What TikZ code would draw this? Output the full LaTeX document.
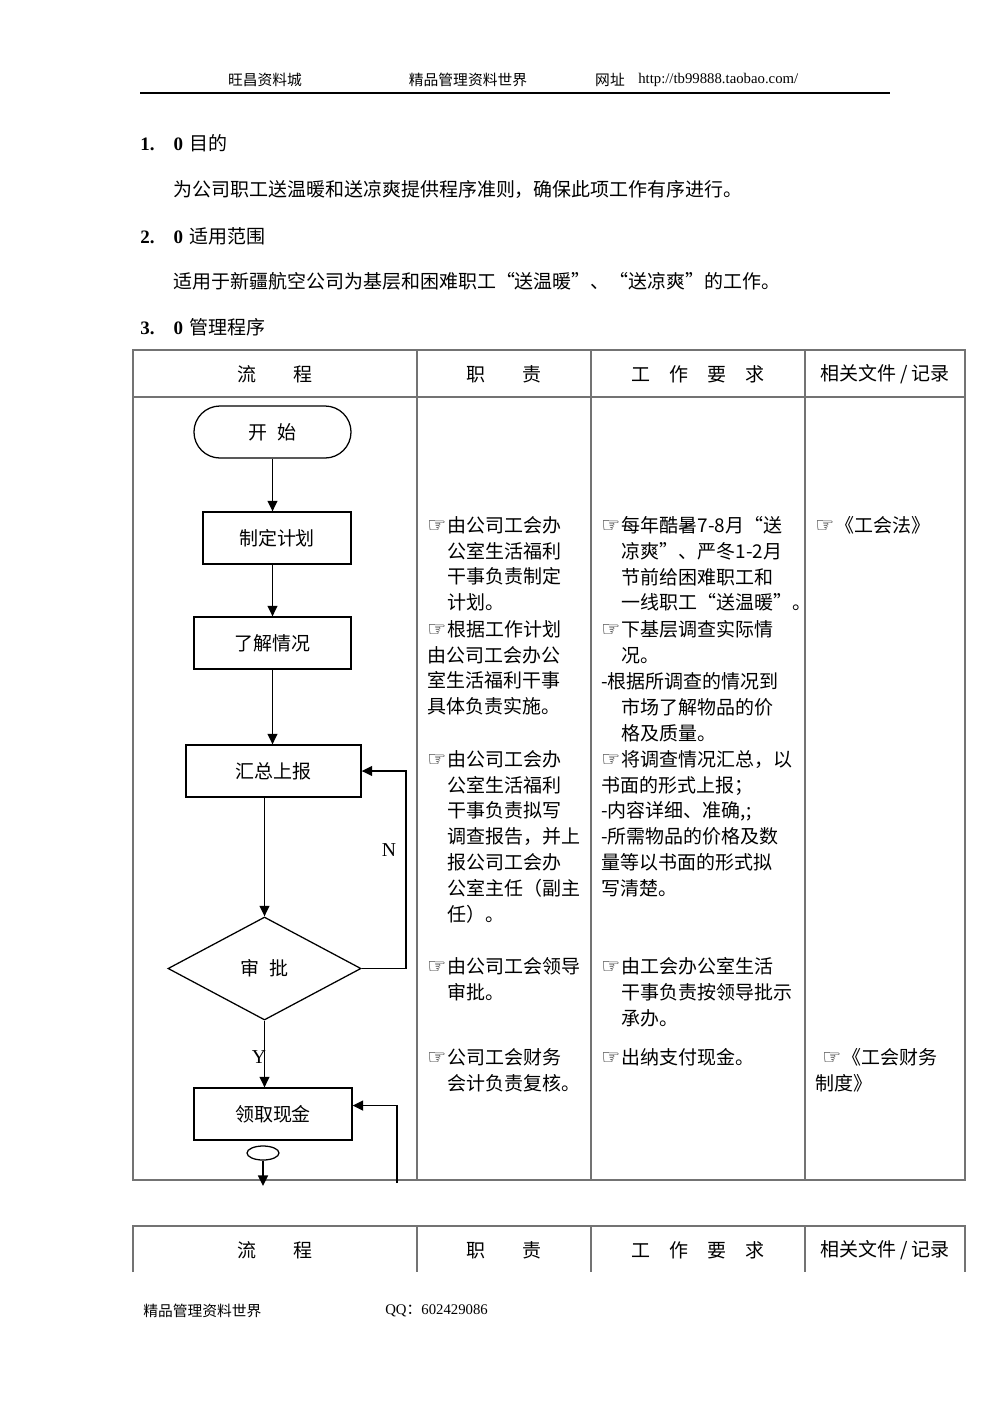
\documentclass[tikz,border=0pt]{standalone}
\usepackage{fontspec}
\setmainfont{Noto Sans CJK SC}
\newfontfamily\latin{Liberation Serif}
\newfontfamily\symfont{DejaVu Sans}
\usetikzlibrary{arrows.meta, positioning, calc, shapes.geometric}
\newcommand\bodyfont{\fontsize{13.5pt}{18.4pt}\selectfont}
\newcommand\smallfont{\fontsize{10.5pt}{12pt}\selectfont}
\newcommand\hand{{\symfont\fontsize{15pt}{15pt}\selectfont ☞}\hspace{1pt}}
\newcommand\gap{\phantom{\hand}}

\begin{document}
\begin{tikzpicture}[
        x=0.025cm,
        y=-0.025cm,
        font=\bodyfont,
        gridline/.style={
            draw=black!55,
            line width=0.8pt
        },
        flowbox/.style={
            draw,
            line width=0.9pt,
            minimum height=1.3cm,
            inner sep=0pt
        },
        flow/.style={
            line width=1.3pt,
            -{Triangle[length=7.5pt,width=7pt]}
        },
        cell/.style={
            anchor=north west,
            inner sep=0pt,
            align=left
        },
        latinlbl/.style={
            font=\latin\fontsize{14pt}{14pt}\selectfont,
            inner sep=0pt
        }
    ]

        \path[fill=white] (0,0) rectangle (992,1403);
        \useasboundingbox (0,0) rectangle (992,1403);

        % Kopfzeile
        \node[font=\smallfont, inner sep=0pt] (shop) at (265,80) {旺昌资料城};
        \node[font=\smallfont, inner sep=0pt] (world) at (468,80) {精品管理资料世界};
        \node[font=\smallfont, inner sep=0pt] (siteword) at (610,80) {网址};
        \node[font=\latin\smallfont, anchor=west, inner sep=0pt] (site) at (638,80)
            {http://tb99888.taobao.com/};
        \draw[line width=1.2pt] (140,93) -- (890,93);

        % Abschnitte
        \node[anchor=west, inner sep=0pt] (sec1) at (140,143)
            {{\latin\bfseries 1.\hspace{1em}0}\hspace{0.35em}目的};
        \node[anchor=west, inner sep=0pt] (sec1txt) at (173,189)
            {为公司职工送温暖和送凉爽提供程序准则，确保此项工作有序进行。};
        \node[anchor=west, inner sep=0pt] (sec2) at (140,236)
            {{\latin\bfseries 2.\hspace{1em}0}\hspace{0.35em}适用范围};
        \node[anchor=west, inner sep=0pt] (sec2txt) at (173,281)
            {适用于新疆航空公司为基层和困难职工“送温暖”、“送凉爽”的工作。};
        \node[anchor=west, inner sep=0pt] (sec3) at (140,327)
            {{\latin\bfseries 3.\hspace{1em}0}\hspace{0.35em}管理程序};

        % Tabelle
        \draw[gridline] (133,350) rectangle (965,1180);
        \draw[gridline] (133,397) -- (965,397);
        \foreach \cx in {417,591,805}
            \draw[gridline] (\cx,350) -- (\cx,1180);

        \node (headflow) at (275,374) {流　　程};
        \node (headduty) at (504,374) {职　　责};
        \node (headreq) at (698,374) {工　作　要　求};
        \node (headdoc) at (885,374) {相关文件 / 记录};

        % Spalte: Verantwortung
        \node[cell] (duty1) at (427,516)
            {\hand 由公司工会办\\ \gap 公室生活福利\\ \gap 干事负责制定\\ \gap 计划。};
        \node[cell] (duty2) at (427,620)
            {\hand 根据工作计划\\由公司工会办公\\室生活福利干事\\具体负责实施。};
        \node[cell] (duty3) at (427,750)
            {\hand 由公司工会办\\ \gap 公室生活福利\\ \gap 干事负责拟写\\ \gap 调查报告，并上\\ \gap 报公司工会办\\ \gap 公室主任（副主\\ \gap 任）。};
        \node[cell] (duty4) at (427,957)
            {\hand 由公司工会领导\\ \gap 审批。};
        \node[cell] (duty5) at (427,1048)
            {\hand 公司工会财务\\ \gap 会计负责复核。};

        % Spalte: Arbeitsanforderungen
        \node[cell] (req1) at (601,516)
            {\hand 每年酷暑7-8月“送\\ \gap 凉爽”、严冬1-2月\\ \gap 节前给困难职工和\\ \gap 一线职工“送温暖”。};
        \node[cell] (req2) at (601,620)
            {\hand 下基层调查实际情\\ \gap 况。};
        \node[cell] (req3) at (601,672)
            {-根据所调查的情况到\\ \gap 市场了解物品的价\\ \gap 格及质量。};
        \node[cell] (req4) at (601,750)
            {\hand 将调查情况汇总，以\\书面的形式上报；\\-内容详细、准确,;\\-所需物品的价格及数\\量等以书面的形式拟\\写清楚。};
        \node[cell] (req5) at (601,957)
            {\hand 由工会办公室生活\\ \gap 干事负责按领导批示\\ \gap 承办。};
        \node[cell] (req6) at (601,1048)
            {\hand 出纳支付现金。};

        % Spalte: Dokumente
        \node[cell] (doc1) at (815,516) {\hand 《工会法》};
        \node[cell] (doc2) at (815,1048) {\hspace{5pt}\hand 《工会财务\\制度》};

        % Ablauf
        \node[draw, line width=0.9pt, rounded corners=0.65cm,
            minimum width=3.925cm, minimum height=1.3cm] (start) at (272.5,432)
            {开\hspace{0.5em}始};
        \node[flowbox, minimum width=3.7cm] (plan) at (277,538) {制定计划};
        \node[flowbox, minimum width=3.925cm] (survey) at (272.5,643) {了解情况};
        \node[flowbox, minimum width=4.375cm] (report) at (273.5,771) {汇总上报};
        \node[draw, diamond, line width=0.9pt, inner sep=0pt,
            minimum width=4.825cm, minimum height=2.575cm] (approve) at (264.5,968.5)
            {审\hspace{0.5em}批};
        \node[flowbox, minimum width=3.95cm] (cash) at (273,1114) {领取现金};
        \node[draw, ellipse, line width=0.9pt, inner sep=0pt,
            minimum width=0.8cm, minimum height=0.35cm] (nextmark) at (263,1153) {};

        \coordinate (exitpt) at (263,1186);
        \coordinate (returnpt) at (397,1183);

        \draw[flow] (start) -- (start |- plan.north);
        \draw[flow] (plan.south -| start) -- (start |- survey.north);
        \draw[flow] (survey.south -| start) -- (start |- report.north);
        \draw[flow] (report.south -| approve) -- (approve.north);
        \draw[flow] (approve.east) -- ++(44,0) |- (report.east);
        \draw[flow] (approve.south) -- (approve.south |- cash.north);
        \draw[flow] (returnpt) |- ([yshift=6pt]cash.east);
        \draw[flow] (nextmark) -- (exitpt);

        \node[latinlbl] (nlabel) at (389,850) {N};
        \node[latinlbl] (ylabel) at (259,1057) {Y};

        % zweite Tabelle (Kopf)
        \draw[gridline] (133,1272) -- (133,1226) -- (965,1226) -- (965,1272);
        \foreach \cx in {417,591,805}
            \draw[gridline] (\cx,1226) -- (\cx,1272);

        \node (headflowb) at (275,1250) {流　　程};
        \node (headdutyb) at (504,1250) {职　　责};
        \node (headreqb) at (698,1250) {工　作　要　求};
        \node (headdocb) at (885,1250) {相关文件 / 记录};

        % Fusszeile
        \node[font=\smallfont, anchor=west, inner sep=0pt] (footbrand) at (143,1311)
            {精品管理资料世界};
        \node[font=\smallfont, anchor=west, inner sep=0pt] (footqq) at (385,1311)
            {{\latin QQ}：{\latin 602429086}};

    \end{tikzpicture}
\end{document}
